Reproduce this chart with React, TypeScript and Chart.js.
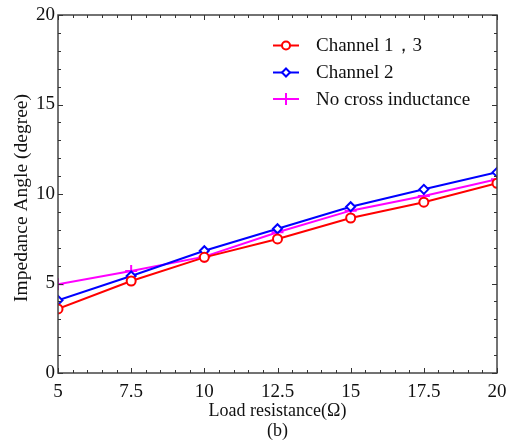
import React, { useEffect, useRef } from "react";
import { Chart, registerables } from "chart.js";

Chart.register(...registerables);

const loadResistance = [5, 7.5, 10, 12.5, 15, 17.5, 20];
const channel13 = [3.58, 5.14, 6.46, 7.49, 8.66, 9.54, 10.6];
const channel2 = [4.06, 5.42, 6.83, 8.06, 9.29, 10.26, 11.21];
const noCross = [4.96, 5.7, 6.5, 7.86, 9.07, 9.89, 10.82];
const seriesLabels = ["Channel 1，3", "Channel 2", "No cross inductance"];
const xTitle = "Load resistance(Ω)";
const yTitle = "Impedance Angle (degree)";
const caption = "(b)";

const FONT = '"Liberation Serif", "Times New Roman", serif';

function drawMarker(ctx: CanvasRenderingContext2D, style: string, x: number, y: number, r: number, color: string) {
  ctx.save();
  ctx.strokeStyle = color;
  ctx.fillStyle = "#fff";
  ctx.lineWidth = 2;
  ctx.beginPath();
  if (style === "circle") {
    ctx.arc(x, y, r, 0, Math.PI * 2);
    ctx.fill();
    ctx.stroke();
  } else if (style === "rectRot") {
    ctx.moveTo(x, y - r);
    ctx.lineTo(x + r, y);
    ctx.lineTo(x, y + r);
    ctx.lineTo(x - r, y);
    ctx.closePath();
    ctx.fill();
    ctx.stroke();
  } else {
    ctx.moveTo(x - r, y);
    ctx.lineTo(x + r, y);
    ctx.moveTo(x, y - r);
    ctx.lineTo(x, y + r);
    ctx.stroke();
  }
  ctx.restore();
}

const decorPlugin = {
  id: "decor",
  afterDraw(chart: any) {
    const ctx: CanvasRenderingContext2D = chart.ctx;
    const { left, right, top, bottom } = chart.chartArea;
    const xs = chart.scales.x;
    const ys = chart.scales.y;
    ctx.save();
    // frame
    ctx.strokeStyle = "#444";
    ctx.lineWidth = 1.5;
    ctx.strokeRect(left, top, right - left, bottom - top);
    // ticks
    ctx.lineWidth = 1;
    ctx.strokeStyle = "#333";
    ctx.beginPath();
    for (let v = 5; v <= 20.001; v += 0.5) {
      const px = Math.round(xs.getPixelForValue(v)) + 0.5;
      const major = Math.abs(v / 2.5 - Math.round(v / 2.5)) < 1e-6;
      const len = major ? 5 : 3;
      ctx.moveTo(px, bottom);
      ctx.lineTo(px, bottom - len);
      ctx.moveTo(px, top);
      ctx.lineTo(px, top + len);
    }
    for (let v = 0; v <= 20.001; v += 1) {
      const py = Math.round(ys.getPixelForValue(v)) + 0.5;
      const major = v % 5 === 0;
      const len = major ? 5 : 3;
      ctx.moveTo(left, py);
      ctx.lineTo(left + len, py);
      ctx.moveTo(right, py);
      ctx.lineTo(right - len, py);
    }
    ctx.stroke();

    // axis titles
    ctx.fillStyle = "#111";
    ctx.font = `18px ${FONT}`;
    ctx.textAlign = "center";
    ctx.textBaseline = "middle";
    ctx.fillText(xTitle, (left + right) / 2, 411);
    ctx.fillText(caption, (left + right) / 2, 431);
    ctx.save();
    ctx.font = `19.5px ${FONT}`;
    ctx.translate(22, 198);
    ctx.rotate(-Math.PI / 2);
    ctx.fillText(yTitle, 0, 0);
    ctx.restore();

    // legend
    const rows = [45.5, 72.5, 99];
    ctx.font = `19px ${FONT}`;
    ctx.textAlign = "left";
    chart.data.datasets.forEach((ds: any, i: number) => {
      const y = rows[i];
      ctx.strokeStyle = ds.borderColor;
      ctx.lineWidth = 2;
      ctx.beginPath();
      ctx.moveTo(273, y);
      ctx.lineTo(299, y);
      ctx.stroke();
      drawMarker(ctx, ds.pointStyle, 286, y, ds.pointStyle === "cross" ? 6 : 4, ds.borderColor);
      ctx.fillStyle = "#111";
      ctx.fillText(ds.label, 316, y + 1);
    });
    ctx.restore();
  },
};

export default function App() {
  const ref = useRef<HTMLCanvasElement | null>(null);
  useEffect(() => {
    document.body.style.margin = "0";
    const canvas = ref.current;
    if (!canvas) return;
    const mk = (label: string, data: number[], color: string, style: string, r: number) => ({
      label,
      data: loadResistance.map((x, i) => ({ x, y: data[i] })),
      borderColor: color,
      backgroundColor: "#fff",
      pointBackgroundColor: style === "cross" ? color : "#fff",
      pointBorderColor: color,
      pointStyle: style,
      pointRadius: r,
      pointBorderWidth: 2,
      borderWidth: 2,
      tension: 0,
      fill: false,
    });
    const chart = new Chart(canvas, {
      type: "line",
      data: {
        datasets: [
          mk(seriesLabels[0], channel13, "#ff0000", "circle", 4.5),
          mk(seriesLabels[1], channel2, "#0000ff", "rectRot", 4.5),
          mk(seriesLabels[2], noCross, "#ff00ff", "cross", 6),
        ],
      },
      options: {
        responsive: false,
        animation: false,
        layout: { padding: { left: 0, top: 15, right: 25, bottom: 0 } },
        plugins: { legend: { display: false }, tooltip: { enabled: false } },
        scales: {
          x: {
            type: "linear",
            min: 5,
            max: 20,
            grid: { display: false, drawTicks: false },
            border: { display: false },
            ticks: {
              stepSize: 2.5,
              padding: 8,
              color: "#111",
              font: { family: FONT, size: 19 },
              maxRotation: 0,
              autoSkip: false,
            },
            afterFit: (s: any) => {
              s.height = 71;
            },
          },
          y: {
            min: 0,
            max: 20,
            grid: { display: false, drawTicks: false },
            border: { display: false },
            ticks: {
              stepSize: 5,
              padding: 3,
              color: "#111",
              font: { family: FONT, size: 19 },
            },
            afterFit: (s: any) => {
              s.width = 58;
            },
          },
        },
      },
      plugins: [decorPlugin],
    } as any);
    return () => chart.destroy();
  }, []);
  return (
    <div style={{ width: 522, height: 444 }}>
      <canvas ref={ref} width={522} height={444} />
    </div>
  );
}
